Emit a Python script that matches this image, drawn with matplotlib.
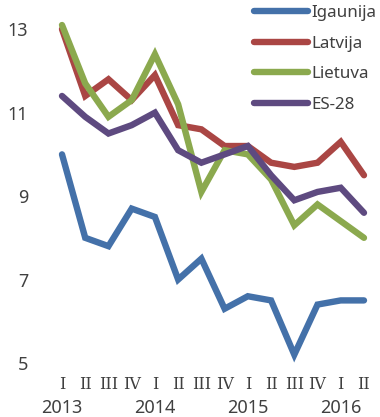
import matplotlib
matplotlib.use("Agg")
import matplotlib.pyplot as plt
import numpy as np

# quarterly values, 2013 Q1 .. 2016 Q2
quarters = ["I", "II", "III", "IV"] * 3 + ["I", "II"]
years = ["2013", "2014", "2015", "2016"]
igaunija = [10.0, 8.0, 7.8, 8.7, 8.5, 7.0, 7.5, 6.3, 6.6, 6.5, 5.2, 6.4, 6.5, 6.5]
latvija = [13.0, 11.4, 11.8, 11.3, 11.9, 10.7, 10.6, 10.2, 10.2, 9.8, 9.7, 9.8, 10.3, 9.5]
lietuva = [13.1, 11.7, 10.9, 11.3, 12.4, 11.2, 9.1, 10.1, 10.0, 9.4, 8.3, 8.8, 8.4, 8.0]
es28 = [11.4, 10.9, 10.5, 10.7, 11.0, 10.1, 9.8, 10.0, 10.2, 9.5, 8.9, 9.1, 9.2, 8.6]

series = [
    ("Igaunija", igaunija, "#4471A9"),
    ("Latvija", latvija, "#AA4644"),
    ("Lietuva", lietuva, "#8BA94E"),
    ("ES-28", es28, "#5E4A80"),
]

text_color = "#404040"
plt.rcParams["font.family"] = ["Noto Sans", "DejaVu Sans"]

fig = plt.figure(figsize=(3.8, 4.17), dpi=100)
ax = fig.add_axes([0.1326, 0.1095, 0.8558, 0.8505])

x = np.arange(len(quarters))
for name, vals, color in series:
    ax.plot(x, vals, color=color, linewidth=4.6, solid_capstyle="round",
            solid_joinstyle="miter", label=name, clip_on=False)

ax.set_xlim(-0.5, 13.5)
ax.set_ylim(4.8, 13.3)
ax.set_yticks([5, 7, 9, 11, 13])
ax.set_xticks(x, quarters, family=["DejaVu Serif"])
ax.tick_params(axis="both", length=0, colors=text_color, labelsize=11.5)
ax.tick_params(axis="y", pad=16, labelsize=13)
ax.tick_params(axis="x", pad=3)
for s in ax.spines.values():
    s.set_visible(False)

# year labels under each first quarter
for i, yr in enumerate(years):
    ax.text(i * 4, -0.103, yr, transform=ax.get_xaxis_transform(),
            ha="center", va="center", fontsize=13, color=text_color, clip_on=False)

leg = ax.legend(loc="upper left", bbox_to_anchor=(0.668, 0.988),
                bbox_transform=fig.transFigure, frameon=False, fontsize=12.2,
                handlelength=3.2, handletextpad=0.2, labelspacing=0.86,
                borderpad=0, borderaxespad=0)
for t in leg.get_texts():
    t.set_color(text_color)

fig.savefig("out.png", dpi=100)
